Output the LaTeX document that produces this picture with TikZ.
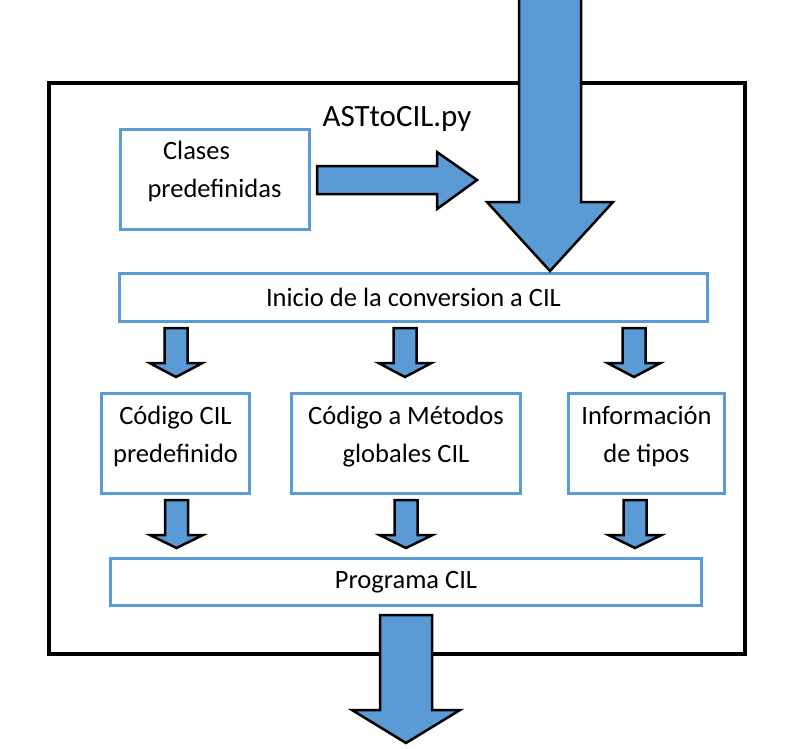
\documentclass[tikz,border=0pt]{standalone}
\usepackage{fontspec}
\setmainfont{Carlito}
\definecolor{azul}{HTML}{5B9BD5}

% flecha de bloque hacia abajo: x centro, y arriba, y cabeza, y punta, medio ancho, medio ancho cabeza
\newcommand{\flechaabajo}[6]{%
  \draw[flecha] (#1-#5,#2) -- (#1+#5,#2) -- (#1+#5,#3) -- (#1+#6,#3)
    -- (#1,#4) -- (#1-#6,#3) -- (#1-#5,#3) -- cycle;}

\begin{document}
\begin{tikzpicture}[
        x=1pt, y=-1pt,
        caja/.style={
        rectangle, draw=azul, line width=3pt,
        inner sep=0pt, fill=white},
        texto/.style={
        align=center, inner sep=0pt,
        font=\fontsize{26.5}{38}\selectfont},
        flecha/.style={
        fill=azul, draw=black, line width=2.5pt},
        ]

        \useasboundingbox (0,0) rectangle (793,748);

        % marco
        \draw[line width=3.5pt] (49,83) rectangle (745,654);

        \node (titulo) [texto, font=\fontsize{31}{36}\selectfont] at (397,119) {ASTtoCIL.py};

        \node (clases) [caja, minimum width=189pt, minimum height=100pt] at (214.5,179.5) {};
        \node [texto] at ([yshift=8.5pt]clases.center) {\hspace*{-36pt}Clases\\predefinidas};

        \node (inicio) [caja, minimum width=588pt, minimum height=48pt] at (413.5,297.5) {};
        \node [texto] at (inicio.center) {Inicio de la conversion a CIL};

        \node (codigo) [caja, minimum width=148pt, minimum height=100pt] at (175.5,443.5) {};
        \node (metodos) [caja, minimum width=229pt, minimum height=100pt] at (406,443.5) {};
        \node (info) [caja, minimum width=156pt, minimum height=100pt] at (646.5,443.5) {};
        \node [texto] at ([yshift=7pt]codigo.center) {Código CIL\\predefinido};
        \node [texto] at ([yshift=7pt]metodos.center) {Código a Métodos\\globales CIL};
        \node [texto] at ([yshift=7pt]info.center) {Información\\de tipos};

        \node (programa) [caja, minimum width=591pt, minimum height=47pt] at (406,582) {};
        \node [texto] at (programa.center) {Programa CIL};

        % flechas
        \draw[flecha] (317,166) -- (437,166) -- (437,152) -- (477,180)
            -- (437,209) -- (437,194) -- (317,194) -- cycle;
        \flechaabajo{550}{-5}{202}{271}{31}{63}

        \flechaabajo{176}{328}{363}{377}{11.5}{26.5}
        \flechaabajo{405}{328}{363}{377}{11.5}{26.5}
        \flechaabajo{634}{328}{363}{377}{11.5}{26.5}

        \flechaabajo{176.5}{500}{535}{548}{11.5}{26.5}
        \flechaabajo{406}{500}{535}{548}{11.5}{26.5}
        \flechaabajo{635}{500}{535}{548}{11.5}{26.5}

        \flechaabajo{406}{615}{710}{743}{26}{54}
    \end{tikzpicture}
\end{document}
